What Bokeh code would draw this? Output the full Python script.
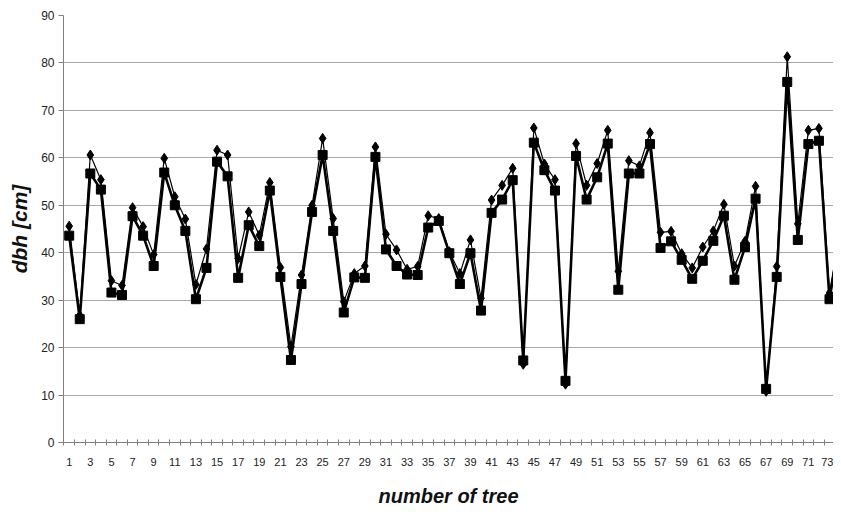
from bokeh.plotting import figure
from bokeh.models import Range1d, FixedTicker, ColumnDataSource
from bokeh.embed import file_html
from bokeh.resources import INLINE

trees = list(range(1, 75))
dbh_upper = [45.6, 26.8, 60.6, 55.4, 34.1, 33.1, 49.5, 45.5, 39.6, 59.9,
             51.8, 47.1, 33.3, 40.8, 61.6, 60.6, 38.8, 48.6, 43.7, 54.8,
             36.9, 20.2, 35.3, 50.0, 64.1, 47.2, 29.7, 35.6, 37.2, 62.3,
             43.9, 40.6, 36.5, 37.1, 47.8, 47.2, 40.2, 35.6, 42.7, 30.4,
             51.1, 54.2, 57.8, 16.5, 66.3, 58.7, 55.4, 12.3, 63.0, 54.2,
             58.8, 65.8, 36.1, 59.4, 58.3, 65.3, 44.3, 44.5, 39.8, 36.8,
             41.2, 44.6, 50.2, 37.2, 42.4, 54.0, 10.8, 37.1, 81.3, 46.1,
             65.8, 66.2, 31.5, 44.6]
dbh_lower = [43.6, 26.0, 56.7, 53.3, 31.6, 31.1, 47.7, 43.6, 37.2, 56.9,
             50.0, 44.6, 30.2, 36.8, 59.2, 56.1, 34.7, 45.8, 41.4, 53.1,
             34.9, 17.4, 33.4, 48.6, 60.6, 44.6, 27.4, 34.8, 34.7, 60.2,
             40.7, 37.2, 35.4, 35.3, 45.3, 46.7, 39.9, 33.4, 39.9, 27.8,
             48.4, 51.2, 55.3, 17.3, 63.2, 57.4, 53.1, 13.0, 60.4, 51.2,
             55.9, 63.0, 32.2, 56.7, 56.7, 62.9, 41.0, 42.4, 38.5, 34.5,
             38.3, 42.5, 47.8, 34.3, 41.2, 51.4, 11.3, 34.9, 76.0, 42.7,
             62.9, 63.6, 30.2, 43.3]
y_ticks = list(range(0, 91, 10))
x_label_ticks = list(range(1, 75, 2))

src = ColumnDataSource(dict(x=trees, up=dbh_upper, lo=dbh_lower))

p = figure(width=833, height=509, output_backend="svg", toolbar_location=None,
           x_range=Range1d(0.46, 73.38), y_range=Range1d(0, 90),
           min_border_left=63, min_border_right=0, min_border_top=15,
           min_border_bottom=66)
p.outline_line_color = None
p.background_fill_color = "white"

p.line("x", "up", source=src, line_color="black", line_width=1.2)
p.scatter("x", "up", source=src, marker="diamond", size=10, color="black")
p.line("x", "lo", source=src, line_color="black", line_width=2.6)
p.scatter("x", "lo", source=src, marker="square", size=9, color="black")

# x axis
xa = p.xaxis[0]
xa.ticker = FixedTicker(ticks=x_label_ticks,
                        minor_ticks=[t + 0.5 for t in range(0, 75)])
xa.major_tick_line_color = None
xa.major_tick_in = 0
xa.major_tick_out = 0
xa.minor_tick_in = 3
xa.minor_tick_out = 3
xa.minor_tick_line_color = "#808080"
xa.axis_line_color = "#808080"
xa.major_label_text_font = "Liberation Sans"
xa.major_label_text_font_size = "11px"
xa.major_label_text_color = "#222222"
xa.major_label_standoff = 12
xa.axis_label = "number of tree"
xa.axis_label_text_font = "Liberation Sans"
xa.axis_label_text_font_style = "bold italic"
xa.axis_label_text_font_size = "20px"
xa.axis_label_text_color = "#111111"
xa.axis_label_standoff = 16

# y axis
ya = p.yaxis[0]
ya.ticker = FixedTicker(ticks=y_ticks)
ya.minor_tick_line_color = None
ya.major_tick_in = 0
ya.major_tick_out = 5
ya.major_tick_line_color = "#808080"
ya.axis_line_color = "#808080"
ya.major_label_text_font = "Liberation Sans"
ya.major_label_text_font_size = "12px"
ya.major_label_text_color = "#222222"
ya.major_label_standoff = 4
ya.axis_label = "dbh [cm]"
ya.axis_label_text_font = "Liberation Sans"
ya.axis_label_text_font_style = "bold italic"
ya.axis_label_text_font_size = "21px"
ya.axis_label_text_color = "#111111"
ya.axis_label_standoff = 7

p.xgrid.grid_line_color = None
p.ygrid.grid_line_color = "#a8a8a8"
p.ygrid.grid_line_width = 1

open("out.html", "w").write(file_html(p, INLINE))
